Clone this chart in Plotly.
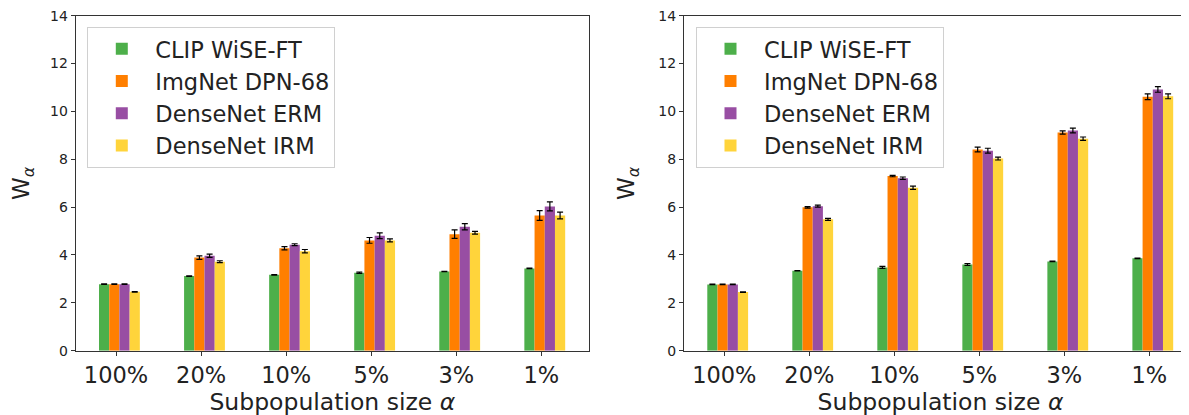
import plotly.graph_objects as go

categories = ["100%", "20%", "10%", "5%", "3%", "1%"]
series_names = ["CLIP WiSE-FT", "ImgNet DPN-68", "DenseNet ERM", "DenseNet IRM"]
colors = ["#4daf4a", "#ff7f00", "#984ea3", "#ffd43b"]

# Left panel values
left_clip = [2.78, 3.12, 3.17, 3.26, 3.31, 3.44]
left_dpn = [2.78, 3.89, 4.28, 4.61, 4.87, 5.65]
left_erm = [2.78, 3.97, 4.43, 4.80, 5.18, 6.03]
left_irm = [2.46, 3.72, 4.16, 4.61, 4.93, 5.65]
left_clip_err = [0.01, 0.01, 0.01, 0.03, 0.01, 0.01]
left_dpn_err = [0.01, 0.07, 0.07, 0.12, 0.18, 0.2]
left_erm_err = [0.01, 0.07, 0.04, 0.12, 0.13, 0.19]
left_irm_err = [0.01, 0.04, 0.07, 0.06, 0.06, 0.14]

# Right panel values
right_clip = [2.77, 3.34, 3.48, 3.60, 3.73, 3.86]
right_dpn = [2.77, 5.99, 7.30, 8.41, 9.12, 10.61]
right_erm = [2.77, 6.04, 7.21, 8.36, 9.20, 10.92]
right_irm = [2.45, 5.49, 6.81, 8.03, 8.86, 10.63]
right_clip_err = [0.01, 0.01, 0.04, 0.04, 0.01, 0.01]
right_dpn_err = [0.01, 0.03, 0.03, 0.1, 0.07, 0.12]
right_erm_err = [0.01, 0.04, 0.05, 0.1, 0.1, 0.12]
right_irm_err = [0.01, 0.04, 0.07, 0.06, 0.07, 0.1]

offsets = [-0.2, -0.08, 0.04, 0.16]
bar_width = 0.12
xpos = list(range(len(categories)))

fig = go.Figure()

left_vals = [left_clip, left_dpn, left_erm, left_irm]
left_errs = [left_clip_err, left_dpn_err, left_erm_err, left_irm_err]
right_vals = [right_clip, right_dpn, right_erm, right_irm]
right_errs = [right_clip_err, right_dpn_err, right_erm_err, right_irm_err]

for i, name in enumerate(series_names):
    fig.add_trace(go.Bar(
        x=xpos, y=left_vals[i], name=name, offset=offsets[i], width=bar_width,
        marker=dict(color=colors[i], line=dict(width=0)),
        error_y=dict(type="data", array=left_errs[i], color="black", thickness=1.2, width=3),
        xaxis="x", yaxis="y", legend="legend", legendgroup="L%d" % i,
    ))
for i, name in enumerate(series_names):
    fig.add_trace(go.Bar(
        x=xpos, y=right_vals[i], name=name, offset=offsets[i], width=bar_width,
        marker=dict(color=colors[i], line=dict(width=0)),
        error_y=dict(type="data", array=right_errs[i], color="black", thickness=1.2, width=3),
        xaxis="x2", yaxis="y2", legend="legend2", legendgroup="R%d" % i,
    ))

W, H = 1189, 415
S = 8  # page offset of the figure in the browser window
ydom = [1 - (350.7 - S) / H, 1 - (15.7 - S) / H]
axis_common = dict(
    showline=True, linecolor="#333", linewidth=1, ticks="outside", ticklen=4,
    tickcolor="#333", showgrid=False, zeroline=False, automargin=False,
    ticklabeloverflow="allow",
)
xcommon = dict(axis_common, tickvals=xpos, ticktext=categories, mirror=True,
               range=[-0.474, 5.56],
               tickfont=dict(family="DejaVu Sans", size=22.5, color="#222"),
               title=dict(text="Subpopulation size <i>α</i>",
                          font=dict(family="DejaVu Sans", size=23.5, color="#222"), standoff=5))
ycommon = dict(axis_common, range=[0, 14], tickvals=[0, 2, 4, 6, 8, 10, 12, 14], mirror=True,
               tickfont=dict(family="DejaVu Sans", size=14, color="#222"),
               title=dict(text="W<sub><i>α</i></sub>",
                          font=dict(family="DejaVu Sans", size=23, color="#222"), standoff=17))

legend_common = dict(
    bgcolor="rgba(255,255,255,0.8)", bordercolor="#d0d0d0", borderwidth=1,
    font=dict(family="DejaVu Sans", size=22.5, color="#222"),
    xanchor="left", yanchor="top", itemwidth=57, tracegroupgap=0,
    traceorder="grouped",
)

fig.update_layout(
    width=W, height=H, margin=dict(l=0, r=0, t=0, b=0, autoexpand=False),
    paper_bgcolor="white", plot_bgcolor="white", barmode="overlay",
    xaxis=dict(xcommon, domain=[(75.7 - S) / W, (589 - S) / W], anchor="y"),
    yaxis=dict(ycommon, domain=ydom, anchor="x"),
    xaxis2=dict(xcommon, domain=[(684 - S) / W, 1.0], anchor="y2"),
    yaxis2=dict(ycommon, domain=ydom, anchor="x2"),
    legend=dict(legend_common, x=(87.3 - S) / W, y=1 - (26.7 - S) / H),
    legend2=dict(legend_common, x=(696 - S) / W, y=1 - (26.7 - S) / H),
    showlegend=True,
)

fig.write_html("out.html")
